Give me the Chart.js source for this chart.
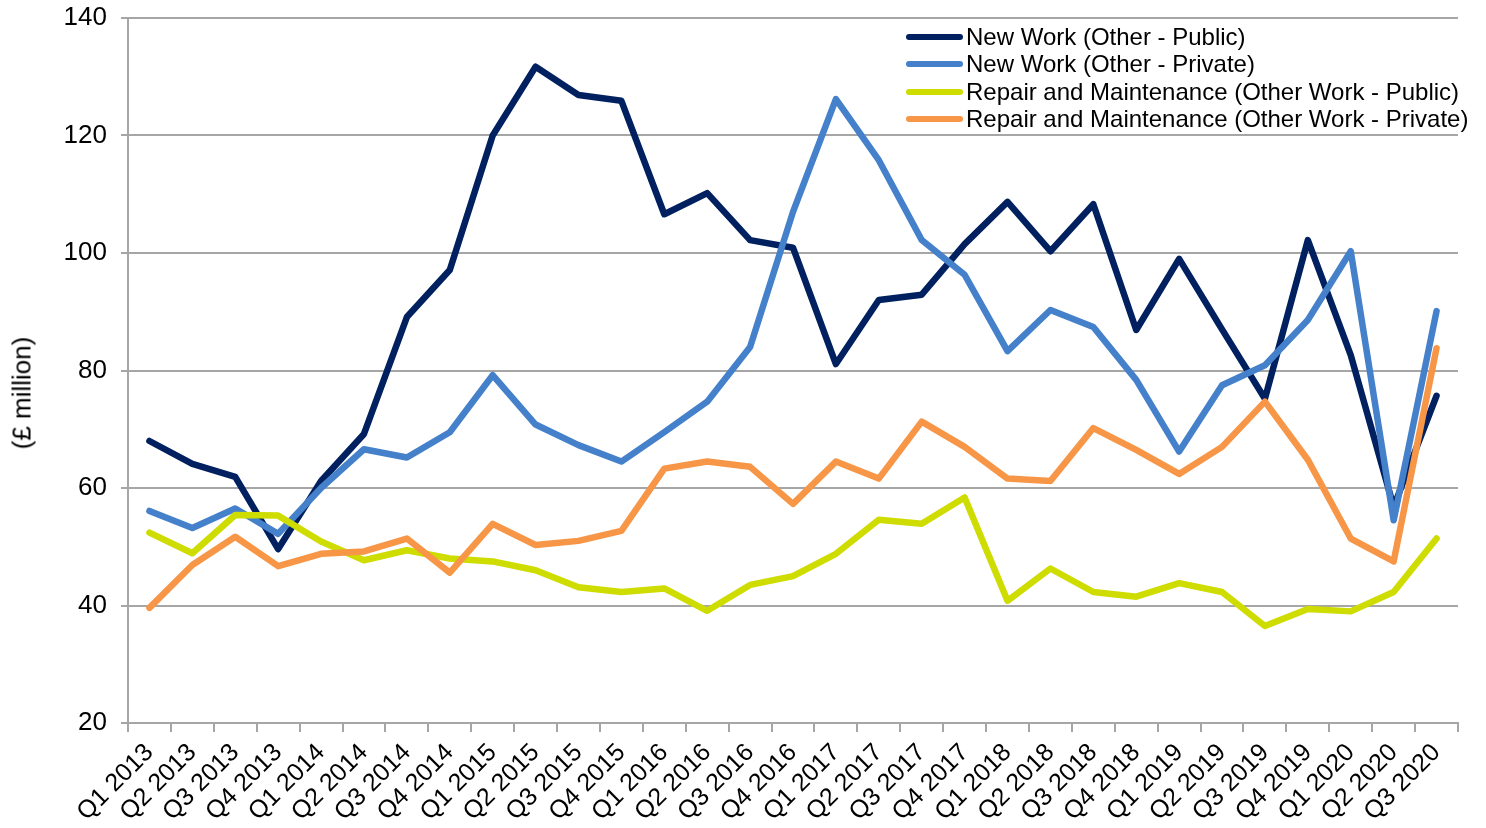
<!DOCTYPE html>
<html>
<head>
<meta charset="utf-8">
<script src="https://cdn.jsdelivr.net/npm/chart.js@4/dist/chart.umd.min.js"></script>
<style>
  body { margin: 0; background: #fff; }
  #wrap { position: relative; width: 1486px; height: 828px; font-family: "Liberation Sans", Arial, sans-serif; }
  #legend { position: absolute; left: 906px; top: 23px; font-size: 24px; color: #000; }
  #legend .row { height: 27.5px; display: flex; align-items: center; white-space: nowrap; }
  #legend .swatch { width: 57px; height: 6px; border-radius: 3px; margin-right: 3px; }
  #ytitle { position: absolute; left: 22px; top: 393px; font-size: 26px; color: #000; white-space: nowrap;
            transform: translate(-50%, -50%) rotate(-90deg); }
</style>
</head>
<body>
<div id="wrap">
  <canvas id="chart" width="1486" height="828"></canvas>
  <div id="ytitle">(£ million)</div>
  <div id="legend"></div>
</div>
<script>
// categories and series
const quarters = [
  "Q1 2013", "Q2 2013", "Q3 2013", "Q4 2013",
  "Q1 2014", "Q2 2014", "Q3 2014", "Q4 2014",
  "Q1 2015", "Q2 2015", "Q3 2015", "Q4 2015",
  "Q1 2016", "Q2 2016", "Q3 2016", "Q4 2016",
  "Q1 2017", "Q2 2017", "Q3 2017", "Q4 2017",
  "Q1 2018", "Q2 2018", "Q3 2018", "Q4 2018",
  "Q1 2019", "Q2 2019", "Q3 2019", "Q4 2019",
  "Q1 2020", "Q2 2020", "Q3 2020"
];

const newWorkPublic = [
  68.0, 64.1, 61.9, 49.6, 61.2, 69.2, 89.1, 97.1,
  120.0, 131.7, 126.9, 125.9, 106.6, 110.2, 102.2, 100.9,
  81.1, 92.0, 92.9, 101.5, 108.7, 100.3, 108.3, 86.9,
  99.0, 87.0, 75.2, 102.2, 82.6, 56.8, 75.7
];

const newWorkPrivate = [
  56.1, 53.2, 56.5, 52.2, 60.0, 66.6, 65.2, 69.5,
  79.2, 70.8, 67.3, 64.5, 69.5, 74.7, 84.0, 107.0,
  126.2, 115.8, 102.2, 96.3, 83.3, 90.3, 87.4, 78.4,
  66.2, 77.5, 80.9, 88.6, 100.3, 54.5, 90.1
];

const rmPublic = [
  52.4, 48.9, 55.4, 55.3, 50.9, 47.7, 49.4, 48.0,
  47.5, 46.0, 43.1, 42.3, 42.9, 39.1, 43.5, 45.0,
  48.8, 54.6, 53.9, 58.4, 40.8, 46.3, 42.3, 41.5,
  43.8, 42.3, 36.5, 39.4, 39.0, 42.3, 51.4
];

const rmPrivate = [
  39.6, 46.9, 51.7, 46.7, 48.8, 49.2, 51.4, 45.6,
  53.9, 50.3, 51.0, 52.7, 63.3, 64.5, 63.6, 57.3,
  64.5, 61.6, 71.3, 67.0, 61.6, 61.2, 70.2, 66.5,
  62.4, 67.0, 74.7, 64.8, 51.4, 47.5, 83.8
];

const seriesNames = [
  "New Work (Other - Public)",
  "New Work (Other - Private)",
  "Repair and Maintenance (Other Work - Public)",
  "Repair and Maintenance (Other Work - Private)"
];
const seriesColors = ["#002060", "#4581CB", "#CEDC00", "#F79646"];
const yTicks = [20, 40, 60, 80, 100, 120, 140];

const FONT = "'Liberation Sans', Arial, sans-serif";
const GRID = "#A6A6A6";

const seriesData = [newWorkPublic, newWorkPrivate, rmPublic, rmPrivate];

// excel draws later series on top; chart.js puts lower order on top
const datasets = seriesData.map((d, i) => ({
  label: seriesNames[i],
  data: d,
  borderColor: seriesColors[i],
  backgroundColor: seriesColors[i],
  borderWidth: 6.5,
  borderCapStyle: "round",
  borderJoinStyle: "round",
  pointRadius: 0,
  tension: 0,
  order: seriesData.length - i
}));

new Chart(document.getElementById("chart"), {
  type: "line",
  data: { labels: quarters, datasets: datasets },
  options: {
    responsive: false,
    animation: false,
    layout: { padding: { top: 0, right: 28, left: 0, bottom: 0 } },
    plugins: {
      legend: { display: false },
      tooltip: { enabled: false }
    },
    scales: {
      x: {
        offset: true,
        grid: { offset: true, drawOnChartArea: false, color: GRID, lineWidth: 2, tickLength: 9 },
        border: { color: GRID, width: 2 },
        ticks: {
          color: "#000", font: { family: FONT, size: 25 },
          minRotation: 45, maxRotation: 45, autoSkip: false, padding: 6
        },
        afterFit(scale) { scale.height = 105; }
      },
      y: {
        min: 20, max: 140,
        afterBuildTicks(scale) { scale.ticks = yTicks.map(v => ({ value: v })); },
        grid: { color: GRID, lineWidth: 2, tickLength: 7 },
        border: { color: GRID, width: 2 },
        ticks: { color: "#000", font: { family: FONT, size: 26 }, padding: 14 },
        afterFit(scale) { scale.width = 128; scale.paddingTop = 18; }
      }
    }
  }
});

// legend as html, built from the same arrays
const legend = document.getElementById("legend");
seriesNames.forEach((name, i) => {
  const row = document.createElement("div");
  row.className = "row";
  const sw = document.createElement("span");
  sw.className = "swatch";
  sw.style.background = seriesColors[i];
  const txt = document.createElement("span");
  txt.innerText = name;
  row.appendChild(sw);
  row.appendChild(txt);
  legend.appendChild(row);
});
</script>
</body>
</html>
